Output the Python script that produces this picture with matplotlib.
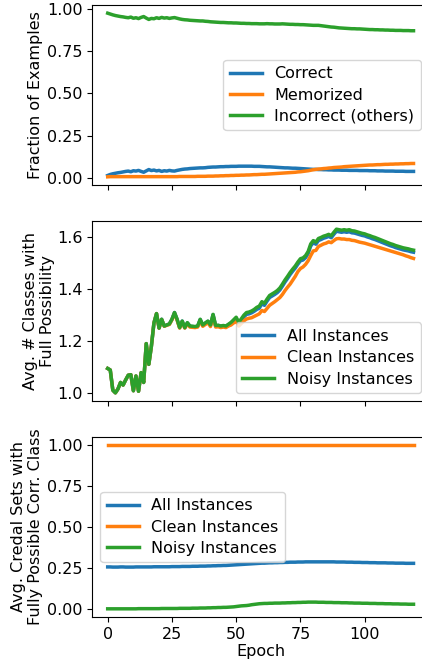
import matplotlib
matplotlib.use("Agg")
import matplotlib.pyplot as plt

epochs = list(range(120))

# Panel 1: fraction of examples per category
correct = [
    0.014, 0.020, 0.024, 0.027, 0.030, 0.032, 0.035, 0.038, 0.040, 0.036,
    0.042, 0.040, 0.044, 0.038, 0.033, 0.041, 0.049, 0.043, 0.046, 0.041,
    0.044, 0.038, 0.042, 0.040, 0.044, 0.041, 0.040, 0.044, 0.047, 0.050,
    0.052, 0.053, 0.055, 0.056, 0.057, 0.058, 0.059, 0.059, 0.060, 0.062,
    0.063, 0.064, 0.064, 0.065, 0.066, 0.066, 0.067, 0.067, 0.068, 0.068,
    0.068, 0.069, 0.069, 0.069, 0.069, 0.069, 0.069, 0.068, 0.068, 0.068,
    0.067, 0.066, 0.065, 0.065, 0.064, 0.063, 0.062, 0.061, 0.060, 0.059,
    0.059, 0.058, 0.057, 0.057, 0.056, 0.055, 0.054, 0.053, 0.052, 0.051,
    0.050, 0.050, 0.049, 0.049, 0.048, 0.048, 0.047, 0.047, 0.046, 0.046,
    0.046, 0.045, 0.045, 0.045, 0.044, 0.044, 0.044, 0.044, 0.043, 0.043,
    0.043, 0.043, 0.042, 0.042, 0.042, 0.041, 0.041, 0.041, 0.040, 0.040,
    0.040, 0.040, 0.039, 0.039, 0.039, 0.039, 0.038, 0.038, 0.038, 0.038,
]
memorized = [
    0.006, 0.007, 0.007, 0.007, 0.007, 0.007, 0.007, 0.007, 0.007, 0.007,
    0.007, 0.007, 0.007, 0.007, 0.007, 0.007, 0.007, 0.007, 0.007, 0.007,
    0.007, 0.007, 0.007, 0.007, 0.007, 0.007, 0.007, 0.007, 0.008, 0.008,
    0.008, 0.008, 0.008, 0.008, 0.008, 0.009, 0.009, 0.009, 0.009, 0.010,
    0.010, 0.010, 0.011, 0.011, 0.012, 0.012, 0.013, 0.013, 0.014, 0.014,
    0.015, 0.015, 0.016, 0.016, 0.017, 0.017, 0.018, 0.019, 0.019, 0.020,
    0.021, 0.021, 0.022, 0.023, 0.024, 0.025, 0.026, 0.027, 0.028, 0.029,
    0.030, 0.031, 0.032, 0.033, 0.035, 0.036, 0.038, 0.040, 0.042, 0.045,
    0.048, 0.050, 0.052, 0.053, 0.055, 0.056, 0.058, 0.059, 0.061, 0.062,
    0.063, 0.064, 0.066, 0.067, 0.068, 0.069, 0.070, 0.071, 0.072, 0.073,
    0.074, 0.075, 0.076, 0.076, 0.077, 0.078, 0.078, 0.079, 0.080, 0.080,
    0.081, 0.081, 0.082, 0.082, 0.083, 0.083, 0.084, 0.084, 0.085, 0.085,
]
incorrect = [
    0.975, 0.970, 0.965, 0.961, 0.958, 0.955, 0.953, 0.950, 0.948, 0.952,
    0.945, 0.948, 0.943, 0.950, 0.955, 0.946, 0.938, 0.944, 0.942, 0.948,
    0.944, 0.950, 0.946, 0.948, 0.944, 0.947, 0.949, 0.945, 0.941, 0.938,
    0.936, 0.935, 0.933, 0.932, 0.931, 0.930, 0.929, 0.929, 0.927, 0.926,
    0.924, 0.923, 0.922, 0.921, 0.920, 0.920, 0.919, 0.918, 0.918, 0.917,
    0.917, 0.916, 0.915, 0.915, 0.914, 0.914, 0.913, 0.913, 0.913, 0.912,
    0.912, 0.912, 0.913, 0.912, 0.912, 0.911, 0.911, 0.911, 0.912, 0.911,
    0.910, 0.909, 0.909, 0.908, 0.908, 0.907, 0.907, 0.906, 0.905, 0.904,
    0.903, 0.903, 0.903, 0.901, 0.899, 0.897, 0.895, 0.893, 0.892, 0.890,
    0.888, 0.887, 0.886, 0.885, 0.884, 0.883, 0.883, 0.882, 0.882, 0.881,
    0.880, 0.879, 0.878, 0.878, 0.877, 0.877, 0.876, 0.876, 0.875, 0.875,
    0.874, 0.874, 0.873, 0.873, 0.873, 0.872, 0.872, 0.872, 0.871, 0.871,
]

# Panel 2: average number of classes with full possibility
classes_all = [
    1.094, 1.088, 1.010, 1.000, 1.015, 1.040, 1.030, 1.050, 1.068, 1.070,
    1.008, 1.065, 1.006, 1.078, 1.040, 1.190, 1.110, 1.180, 1.270, 1.306,
    1.250, 1.284, 1.258, 1.262, 1.266, 1.284, 1.310, 1.284, 1.252, 1.277,
    1.251, 1.270, 1.257, 1.256, 1.255, 1.257, 1.283, 1.261, 1.269, 1.276,
    1.261, 1.302, 1.259, 1.260, 1.257, 1.259, 1.257, 1.263, 1.270, 1.279,
    1.288, 1.267, 1.280, 1.293, 1.303, 1.305, 1.309, 1.315, 1.322, 1.327,
    1.344, 1.338, 1.354, 1.368, 1.374, 1.380, 1.387, 1.397, 1.412, 1.428,
    1.442, 1.457, 1.470, 1.482, 1.497, 1.510, 1.513, 1.522, 1.538, 1.567,
    1.580, 1.574, 1.588, 1.592, 1.597, 1.600, 1.604, 1.599, 1.612, 1.624,
    1.622, 1.620, 1.622, 1.620, 1.622, 1.618, 1.617, 1.614, 1.611, 1.608,
    1.606, 1.602, 1.599, 1.595, 1.592, 1.588, 1.584, 1.580, 1.576, 1.572,
    1.568, 1.565, 1.561, 1.558, 1.555, 1.552, 1.550, 1.548, 1.545, 1.543,
]
classes_clean = [
    1.094, 1.088, 1.010, 1.000, 1.015, 1.040, 1.030, 1.050, 1.068, 1.070,
    1.008, 1.065, 1.006, 1.078, 1.040, 1.190, 1.110, 1.180, 1.270, 1.306,
    1.250, 1.283, 1.257, 1.261, 1.264, 1.282, 1.307, 1.281, 1.250, 1.274,
    1.250, 1.266, 1.254, 1.253, 1.252, 1.254, 1.278, 1.257, 1.264, 1.271,
    1.256, 1.296, 1.254, 1.255, 1.252, 1.254, 1.252, 1.258, 1.262, 1.270,
    1.276, 1.258, 1.268, 1.278, 1.285, 1.288, 1.290, 1.295, 1.300, 1.305,
    1.318, 1.314, 1.326, 1.338, 1.345, 1.352, 1.360, 1.368, 1.380, 1.395,
    1.408, 1.420, 1.435, 1.450, 1.468, 1.480, 1.486, 1.496, 1.510, 1.530,
    1.548, 1.550, 1.565, 1.570, 1.575, 1.578, 1.583, 1.580, 1.588, 1.595,
    1.596, 1.594, 1.594, 1.592, 1.592, 1.589, 1.588, 1.585, 1.582, 1.580,
    1.578, 1.575, 1.572, 1.569, 1.566, 1.563, 1.560, 1.557, 1.554, 1.551,
    1.548, 1.545, 1.542, 1.539, 1.536, 1.533, 1.529, 1.526, 1.522, 1.519,
]
classes_noisy = [
    1.094, 1.088, 1.010, 1.000, 1.015, 1.040, 1.030, 1.050, 1.068, 1.070,
    1.008, 1.065, 1.006, 1.078, 1.040, 1.190, 1.110, 1.180, 1.270, 1.306,
    1.250, 1.284, 1.258, 1.262, 1.266, 1.284, 1.310, 1.284, 1.252, 1.277,
    1.252, 1.271, 1.258, 1.257, 1.256, 1.258, 1.284, 1.262, 1.270, 1.277,
    1.262, 1.303, 1.260, 1.261, 1.258, 1.260, 1.258, 1.265, 1.272, 1.282,
    1.292, 1.272, 1.286, 1.300, 1.310, 1.312, 1.316, 1.322, 1.330, 1.335,
    1.352, 1.346, 1.362, 1.376, 1.382, 1.388, 1.395, 1.405, 1.420, 1.436,
    1.450, 1.465, 1.478, 1.490, 1.505, 1.518, 1.521, 1.530, 1.546, 1.575,
    1.588, 1.582, 1.596, 1.600, 1.605, 1.608, 1.612, 1.607, 1.620, 1.632,
    1.630, 1.628, 1.630, 1.628, 1.630, 1.626, 1.625, 1.622, 1.619, 1.616,
    1.614, 1.610, 1.607, 1.603, 1.600, 1.596, 1.592, 1.588, 1.584, 1.580,
    1.576, 1.573, 1.569, 1.566, 1.563, 1.560, 1.558, 1.556, 1.553, 1.551,
]

# Panel 3: credal sets with fully possible correct class
credal_all = [
    0.256, 0.256, 0.255, 0.255, 0.255, 0.256, 0.256, 0.255, 0.255, 0.255,
    0.255, 0.256, 0.256, 0.256, 0.256, 0.256, 0.256, 0.256, 0.257, 0.257,
    0.257, 0.257, 0.257, 0.257, 0.257, 0.258, 0.258, 0.258, 0.258, 0.259,
    0.259, 0.259, 0.259, 0.260, 0.260, 0.260, 0.261, 0.261, 0.261, 0.262,
    0.262, 0.263, 0.263, 0.264, 0.264, 0.265, 0.265, 0.266, 0.267, 0.268,
    0.269, 0.270, 0.271, 0.272, 0.273, 0.274, 0.275, 0.276, 0.277, 0.278,
    0.279, 0.279, 0.280, 0.281, 0.281, 0.282, 0.282, 0.283, 0.283, 0.284,
    0.284, 0.285, 0.285, 0.285, 0.286, 0.286, 0.286, 0.287, 0.287, 0.287,
    0.287, 0.287, 0.287, 0.287, 0.287, 0.287, 0.287, 0.287, 0.287, 0.286,
    0.286, 0.286, 0.286, 0.285, 0.285, 0.285, 0.284, 0.284, 0.284, 0.283,
    0.283, 0.283, 0.282, 0.282, 0.282, 0.281, 0.281, 0.281, 0.281, 0.280,
    0.280, 0.280, 0.279, 0.279, 0.279, 0.279, 0.278, 0.278, 0.278, 0.278,
]
credal_clean = [1.0] * 120
credal_noisy = [
    0.000, 0.000, 0.000, 0.000, 0.000, 0.000, 0.000, 0.000, 0.000, 0.000,
    0.000, 0.000, 0.001, 0.001, 0.001, 0.001, 0.001, 0.001, 0.001, 0.001,
    0.001, 0.002, 0.002, 0.002, 0.002, 0.002, 0.002, 0.002, 0.003, 0.003,
    0.003, 0.003, 0.003, 0.004, 0.004, 0.004, 0.005, 0.005, 0.005, 0.006,
    0.006, 0.007, 0.007, 0.008, 0.008, 0.009, 0.009, 0.010, 0.011, 0.012,
    0.014, 0.016, 0.018, 0.019, 0.020, 0.022, 0.025, 0.027, 0.029, 0.031,
    0.032, 0.033, 0.033, 0.034, 0.034, 0.035, 0.035, 0.035, 0.036, 0.036,
    0.037, 0.037, 0.038, 0.038, 0.039, 0.039, 0.040, 0.040, 0.041, 0.041,
    0.041, 0.041, 0.040, 0.040, 0.040, 0.039, 0.039, 0.039, 0.038, 0.038,
    0.038, 0.037, 0.037, 0.037, 0.036, 0.036, 0.035, 0.035, 0.035, 0.034,
    0.034, 0.034, 0.033, 0.033, 0.033, 0.032, 0.032, 0.032, 0.031, 0.031,
    0.031, 0.030, 0.030, 0.030, 0.029, 0.029, 0.029, 0.028, 0.028, 0.028,
]

panel1_labels = ["Correct", "Memorized", "Incorrect (others)"]
instance_labels = ["All Instances", "Clean Instances", "Noisy Instances"]

plt.rcParams["font.size"] = 11.5
plt.rcParams["font.family"] = ["DejaVu Sans"]
plt.rcParams["legend.labelspacing"] = 0.4

W, H = 422, 661
fig = plt.figure(figsize=(W / 100, H / 100), dpi=100)

left = 92.4 / W
width = 336.4 / W
height = 180 / H
ax1 = fig.add_axes([left, (H - 185) / H, width, height])
ax2 = fig.add_axes([left, (H - 401) / H, width, height], sharex=ax1)
ax3 = fig.add_axes([left, (H - 617) / H, width, height], sharex=ax1)

lw = 2.5
for series, lab in zip([correct, memorized, incorrect], panel1_labels):
    ax1.plot(epochs, series, lw=lw, label=lab)
ax1.set_ylabel("Fraction of Examples")
ax1.set_yticks([0.0, 0.25, 0.5, 0.75, 1.0])
ax1.legend(loc="center right")

for series, lab in zip([classes_all, classes_clean, classes_noisy], instance_labels):
    ax2.plot(epochs, series, lw=lw, label=lab)
ax2.set_ylabel("Avg. # Classes with\nFull Possibility")
ax2.set_yticks([1.0, 1.2, 1.4, 1.6])
ax2.legend(loc="lower right")

for series, lab in zip([credal_all, credal_clean, credal_noisy], instance_labels):
    ax3.plot(epochs, series, lw=lw, label=lab)
ax3.set_ylabel("Avg. Credal Sets with\nFully Possible Corr. Class")
ax3.set_yticks([0.0, 0.25, 0.5, 0.75, 1.0])
ax3.legend(loc="center left")
ax3.set_xlabel("Epoch")
ax3.set_xticks([0, 25, 50, 75, 100])

for ax in (ax1, ax2):
    ax.tick_params(labelbottom=False)

# label placement (axes-fraction coordinates)
ax_w = 336.4
ax1.yaxis.set_label_coords((43 - 92.4) / ax_w, 0.5)
ax2.yaxis.set_label_coords((55 - 92.4) / ax_w, 0.5)
ax3.yaxis.set_label_coords((43 - 92.4) / ax_w, 0.5)
ax3.xaxis.set_label_coords(0.5, -0.152)

fig.savefig("out.png", dpi=100)
